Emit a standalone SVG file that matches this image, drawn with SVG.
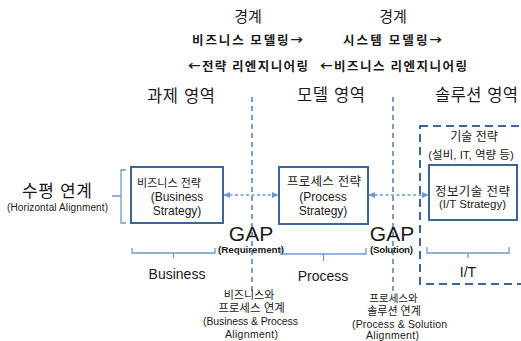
<svg xmlns="http://www.w3.org/2000/svg" width="521" height="341" viewBox="0 0 521 341">
<defs>
<style>
text{font-family:"Liberation Sans","Noto Sans CJK KR",sans-serif;fill:#1a1a1a;text-anchor:middle}
.s{text-anchor:start}
.k{font-family:"Noto Sans CJK KR","Liberation Sans",sans-serif}
.b{font-weight:bold}
.box{fill:#fff;stroke:#3d6595;stroke-width:2}
.br{fill:none;stroke:#6a9bd2;stroke-width:1.3}
.vl{fill:none;stroke:#4f84cc;stroke-width:1.6;stroke-dasharray:5,4}
.ar{fill:none;stroke:#6a9bd2;stroke-width:1.3;stroke-dasharray:3,2.5}
</style>
<marker id="ah" viewBox="0 0 8 8" refX="7" refY="4" markerWidth="7" markerHeight="7" orient="auto-start-reverse" markerUnits="userSpaceOnUse">
<path d="M0,0.5 L8,4 L0,7.5 z" fill="#6a9bd2"/>
</marker>
</defs>
<rect width="521" height="341" fill="#fff"/>

<g id="headers">
<text x="248" y="22" font-size="15">경계</text>
<text x="393" y="22" font-size="15">경계</text>
<text class="s k b" x="192" y="45" font-size="12.5" textLength="111">비즈니스 모델링→</text>
<text class="s k b" x="343" y="45" font-size="12.5" textLength="99">시스템 모델링→</text>
<text class="s k b" x="188" y="71" font-size="12.5" textLength="120">←전략 리엔지니어링</text>
<text class="s k b" x="320" y="71" font-size="12.5" textLength="147">←비즈니스 리엔지니어링</text>
<text class="s" x="147" y="102" font-size="16.5" textLength="68">과제 영역</text>
<text class="s" x="297" y="101" font-size="16.5" textLength="68">모델 영역</text>
<text class="s" x="435" y="101" font-size="16.5" textLength="83">솔루션 영역</text>
</g>

<g id="connectors">
<line class="vl" x1="252" y1="97" x2="252" y2="294"/>
<line class="vl" x1="393" y1="97" x2="393" y2="294"/>
<line class="ar" x1="224" y1="195" x2="278" y2="195" marker-start="url(#ah)" marker-end="url(#ah)"/>
<line class="ar" x1="369" y1="195" x2="428" y2="195" marker-start="url(#ah)" marker-end="url(#ah)"/>
</g>

<g id="horizontal">
<path class="br" d="M126,170 H121 V196 H112 M121,196 V223 H126"/>
<text class="s" x="22" y="197" font-size="17" textLength="70">수평 연계</text>
<text class="s" x="7" y="211" font-size="10" textLength="101">(Horizontal Alignment)</text>
</g>

<g id="solution-area">
<rect x="420" y="126" width="110" height="158" fill="none" stroke="#3d6595" stroke-width="2" stroke-dasharray="8,5"/>
<text x="474" y="141" font-size="12">기술 전략</text>
<text x="471" y="159" font-size="11.5">(설비, IT, 역량 등)</text>
</g>

<g id="business">
<rect class="box" x="131" y="167" width="92" height="56"/>
<text x="169" y="187" font-size="11">비즈니스 전략</text>
<text x="177" y="201" font-size="12">(Business</text>
<text x="177" y="215" font-size="12">Strategy)</text>
</g>

<g id="process">
<rect class="box" x="279" y="167" width="89" height="57"/>
<text class="s" x="287" y="186" font-size="12.5" textLength="74">프로세스 전략</text>
<text x="323" y="201" font-size="12">(Process</text>
<text x="323" y="215" font-size="12">Strategy)</text>
</g>

<g id="it">
<rect class="box" x="429" y="165" width="88" height="55"/>
<text class="s" x="435" y="196" font-size="12.5" textLength="75">정보기술 전략</text>
<text class="s" x="439" y="208" font-size="11.5" textLength="67">(I/T Strategy)</text>
</g>

<g id="gap-requirement">
<text x="251" y="241" font-size="21">GAP</text>
<text class="s b" x="218" y="253" font-size="9.8" textLength="66">(Requirement)</text>
</g>

<g id="gap-solution">
<text x="392" y="241" font-size="21">GAP</text>
<text class="s b" x="370" y="253" font-size="9.8" textLength="43">(Solution)</text>
</g>

<g id="brackets">
<path class="br" d="M132,248 V253 H215 V248 M173.5,253 V258"/>
<text x="177" y="279" font-size="14">Business</text>
<path class="br" d="M281,248 V254 H366 V248 M323.5,254 V261"/>
<text x="323" y="281" font-size="14">Process</text>
<path class="br" d="M427,247 V253 H509 V247 M468,253 V258"/>
<text x="468" y="277" font-size="14">I/T</text>
</g>

<g id="bp-align">
<text x="249" y="299" font-size="11">비즈니스와</text>
<text x="251.5" y="312" font-size="11.5">프로세스 연계</text>
<text class="s" x="203" y="325" font-size="10.5" textLength="95">(Business &amp; Process</text>
<text class="s" x="225" y="337.5" font-size="10.5" textLength="53">Alignment)</text>
</g>

<g id="ps-align">
<text x="393.5" y="302" font-size="10.5">프로세스와</text>
<text x="394" y="315" font-size="11">솔루션 연계</text>
<text class="s" x="352" y="328" font-size="10.5" textLength="95">(Process &amp; Solution</text>
<text class="s" x="366" y="338.5" font-size="10.5" textLength="53">Alignment)</text>
</g>
</svg>
